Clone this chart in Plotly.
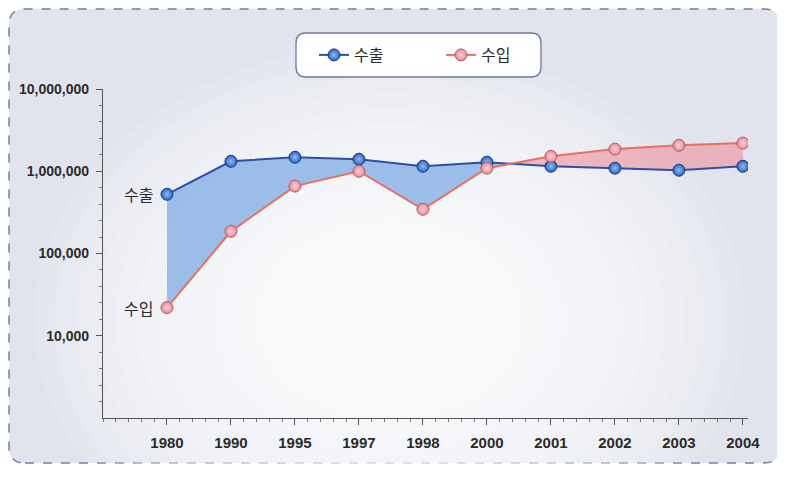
import math
import plotly.graph_objects as go

# ---- data ----
years = ["1980", "1990", "1995", "1997", "1998", "2000", "2001", "2002", "2003", "2004"]
exports = [525000, 1320000, 1480000, 1400000, 1150000, 1290000, 1150000, 1090000, 1030000, 1150000]
imports = [22000, 186000, 660000, 1000000, 345000, 1090000, 1520000, 1860000, 2070000, 2200000]

y_tickvals = [10000, 100000, 1000000, 10000000]
y_ticktext = ["10,000", "100,000", "1,000,000", "10,000,000"]

# the page body adds an 8px margin, so the figure is sized / placed to compensate
OFF = 8
W, H = 785 - OFF, 480 - OFF
ML, MT = 103 - OFF, 89 - OFF
MR, MB = W - (748 - OFF), H - (418 - OFF)
PW, PH = W - ML - MR, H - MT - MB

BLUE_LINE = "#2f4fa6"
BLUE_MARK = "#2a63c2"
RED_LINE = "#e8705f"
RED_MARK = "#e48a96"
TXT = "#2b2b2b"
KFONT = "Noto Sans CJK KR"
NFONT = "Liberation Sans, Arial, sans-serif"


def px(x):
    # screen x -> paper x
    return (x - OFF - ML) / PW


def py(y):
    # screen y -> paper y
    return (H - MB - (y - OFF)) / PH


def rounded_rect(x0, y0, x1, y1, r):
    # screen box -> paper-coordinate path with rounded corners
    rx, ry = r / PW, r / PH
    a, b, c, d = px(x0), py(y1), px(x1), py(y0)  # left, bottom, right, top
    return (f"M {a+rx},{b} L {c-rx},{b} Q {c},{b} {c},{b+ry} "
            f"L {c},{d-ry} Q {c},{d} {c-rx},{d} L {a+rx},{d} "
            f"Q {a},{d} {a},{d-ry} L {a},{b+ry} Q {a},{b} {a+rx},{b} Z")


# ---- build fill bands, splitting where the two series cross (log space) ----
xs, lo, ex_aug, im_aug = [], [], [], []
for i in range(len(years)):
    le, li = math.log10(exports[i]), math.log10(imports[i])
    xs.append(i)
    ex_aug.append(exports[i])
    im_aug.append(imports[i])
    lo.append(min(exports[i], imports[i]))
    if i < len(years) - 1:
        d0 = le - li
        d1 = math.log10(exports[i + 1]) - math.log10(imports[i + 1])
        if d0 * d1 < 0:
            t = d0 / (d0 - d1)
            yc = 10 ** (le + t * (math.log10(exports[i + 1]) - le))
            xs.append(i + t)
            ex_aug.append(yc)
            im_aug.append(yc)
            lo.append(yc)

fig = go.Figure()
hidden = dict(width=0, color="rgba(0,0,0,0)")
fig.add_trace(go.Scatter(x=xs, y=lo, mode="lines", line=hidden, showlegend=False, hoverinfo="skip"))
fig.add_trace(go.Scatter(x=xs, y=ex_aug, mode="lines", line=hidden, fill="tonexty",
                         fillcolor="rgba(105,160,225,0.64)", showlegend=False, hoverinfo="skip"))
fig.add_trace(go.Scatter(x=xs, y=lo, mode="lines", line=hidden, showlegend=False, hoverinfo="skip"))
fig.add_trace(go.Scatter(x=xs, y=im_aug, mode="lines", line=hidden, fill="tonexty",
                         fillcolor="rgba(238,135,150,0.55)", showlegend=False, hoverinfo="skip"))

fig.add_trace(go.Scatter(
    x=list(range(len(years))), y=exports, name="수출", mode="lines+markers",
    line=dict(color=BLUE_LINE, width=2),
    marker=dict(size=12, color=BLUE_MARK, line=dict(color="#1d3a7a", width=1),
                gradient=dict(type="radial", color="#8fc0f5")),
))
fig.add_trace(go.Scatter(
    x=list(range(len(years))), y=imports, name="수입", mode="lines+markers",
    line=dict(color=RED_LINE, width=2),
    marker=dict(size=12, color=RED_MARK, line=dict(color="#b45a66", width=1),
                gradient=dict(type="radial", color="#fbd3d8")),
))

# ---- background: rounded dashed panel with a soft white glow ----
shapes = [dict(type="path", xref="paper", yref="paper", layer="below",
               path=rounded_rect(9, 9, 780, 463, 16),
               fillcolor="#e1e4ec", line=dict(color="#6d7fae", width=1.5, dash="dash"))]
n_glow = 14
for k in range(n_glow):
    f = 1 - k / n_glow
    w, h = 150 + 560 * f, 110 + 440 * f
    cx, cy = 390, 320
    shapes.append(dict(type="circle", xref="paper", yref="paper", layer="below",
                       x0=px(cx - w / 2), x1=px(cx + w / 2), y0=py(cy + h / 2), y1=py(cy - h / 2),
                       fillcolor="rgba(255,255,255,0.13)", line=dict(width=0)))
# legend frame
shapes.append(dict(type="path", xref="paper", yref="paper",
                   path=rounded_rect(296, 33, 541, 77, 10),
                   fillcolor="white", line=dict(color="#6d7a9c", width=1.3)))

annotations = [
    dict(x=0, y=math.log10(exports[0]), text="수출", showarrow=False, xanchor="right",
         xshift=-12, font=dict(family=KFONT, size=16, color=TXT)),
    dict(x=0, y=math.log10(imports[0]), text="수입", showarrow=False, xanchor="right",
         xshift=-12, font=dict(family=KFONT, size=16, color=TXT)),
]

fig.update_layout(
    width=W, height=H,
    margin=dict(l=ML, r=MR, t=MT, b=MB, autoexpand=False),
    paper_bgcolor="white",
    plot_bgcolor="rgba(0,0,0,0)",
    shapes=shapes,
    annotations=annotations,
    showlegend=True,
    legend=dict(orientation="h", x=px(314), y=py(55), xanchor="left", yanchor="middle",
                traceorder="normal",
                bgcolor="rgba(0,0,0,0)", font=dict(family=KFONT, size=16, color=TXT),
                entrywidth=82, entrywidthmode="pixels", itemwidth=30),
    xaxis=dict(
        range=[-1, 9.08], tickmode="array", tickvals=list(range(len(years))), ticktext=years,
        showgrid=False, zeroline=False, showline=True, linecolor="#555", linewidth=1.2,
        ticks="outside", ticklen=6, tickcolor="#555", automargin=False, ticklabelstandoff=5,
        minor=dict(dtick=0.2, tick0=0, ticks="outside", ticklen=3, tickcolor="#777"),
        tickfont=dict(family=NFONT, size=15, color=TXT, weight="bold"),
    ),
    yaxis=dict(
        type="log", range=[3, 7], tickmode="array", tickvals=y_tickvals, ticktext=y_ticktext,
        showgrid=False, zeroline=False, showline=True, linecolor="#555", linewidth=1.2,
        ticks="outside", ticklen=6, tickcolor="#555", automargin=False, ticklabelstandoff=4,
        minor=dict(tickmode="array", ticks="outside", ticklen=3, tickcolor="#777",
                   tickvals=[10 ** (3 + k * 0.2) for k in range(21) if k % 5]),
        tickfont=dict(family=NFONT, size=14, color=TXT, weight="bold"),
    ),
)

fig.write_html("out.html")
